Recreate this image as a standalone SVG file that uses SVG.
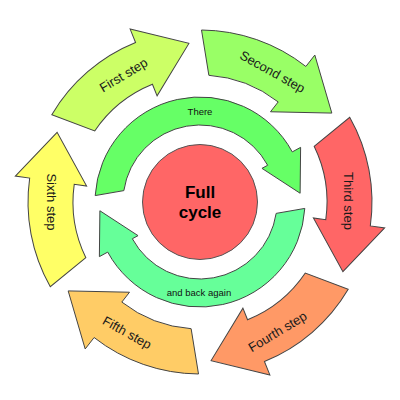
<svg xmlns="http://www.w3.org/2000/svg" width="400" height="400" viewBox="0 0 400 400">
<style>
.s{stroke:#444;stroke-width:1;stroke-linejoin:miter}
.lbl{font-family:"Liberation Sans",Arial,sans-serif;font-size:13px;fill:#1a1a1a;text-anchor:middle}
.sm{font-family:"Liberation Sans",Arial,sans-serif;font-size:9.5px;fill:#111;text-anchor:middle}
.ctr{font-family:"Liberation Sans",Arial,sans-serif;font-size:17px;font-weight:bold;fill:#000;text-anchor:middle}
</style>
<defs>
<path id="outerArrow" d="M 371.99,203.5 A 172 172 0 0 1 335.54,307.89 L 346.96,316.82 L 288.91,333.82 L 290.23,272.49 L 300.08,280.19 A 127 127 0 0 0 326.69,210.86 Z"/>
<path id="innerArrow" d="M 95.2,195.59 A 105 105 0 0 1 292.28,151.9 L 300.62,147.37 L 300.12,193.24 L 261.96,168.36 L 267.67,165.26 A 77 77 0 0 0 123.85,190.62 Z"/>
</defs>
<rect width="400" height="400" fill="#fff"/>
<g id="step1">
<use href="#outerArrow" class="s" fill="#CCFF66" transform="rotate(-150 200 202)"/>
<text class="lbl" transform="translate(123.5 75) rotate(-31)" y="4.5">First step</text>
</g>
<g id="step2">
<use href="#outerArrow" class="s" fill="#99FF66" transform="rotate(-90 200 202)"/>
<text class="lbl" transform="translate(272.5 71.7) rotate(29)" y="4.5">Second step</text>
</g>
<g id="step3">
<use href="#outerArrow" class="s" fill="#FF6666" transform="rotate(-30 200 202)"/>
<text class="lbl" transform="translate(348.3 201) rotate(90)" y="4.5">Third step</text>
</g>
<g id="step4">
<use href="#outerArrow" class="s" fill="#FF9966" transform="rotate(30 200 202)"/>
<text class="lbl" transform="translate(277.5 331.7) rotate(-31)" y="4.5">Fourth step</text>
</g>
<g id="step5">
<use href="#outerArrow" class="s" fill="#FFCC66" transform="rotate(90 200 202)"/>
<text class="lbl" transform="translate(127 332.5) rotate(29)" y="4.5">Fifth step</text>
</g>
<g id="step6">
<use href="#outerArrow" class="s" fill="#FFFF66" transform="rotate(150 200 202)"/>
<text class="lbl" transform="translate(51.5 202) rotate(90)" y="4.5">Sixth step</text>
</g>
<g id="connectors">
<g id="there">
<use href="#innerArrow" class="s" fill="#66FF66"/>
<text class="sm" x="200" y="114.5">There</text>
</g>
<g id="back">
<use href="#innerArrow" class="s" fill="#66FF99" transform="rotate(180 200 202)"/>
<text class="sm" x="199" y="296">and back again</text>
</g>
</g>
<g id="center">
<circle cx="200" cy="202" r="57.5" fill="#FF6666" stroke="#555" stroke-width="1"/>
<text class="ctr" x="200" y="198">Full</text>
<text class="ctr" x="200" y="217.5">cycle</text>
</g>
</svg>
